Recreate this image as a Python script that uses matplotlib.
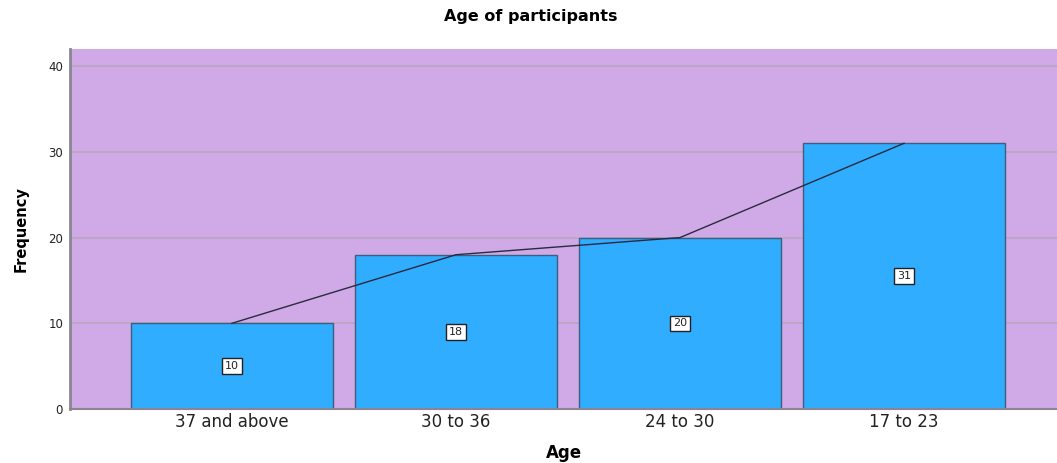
import numpy as np
import matplotlib.pyplot as plt

# --- DATA ---
age_groups = ['37 and above', '30 to 36', '24 to 30', '17 to 23']
frequency = [10, 18, 20, 31]
y_ticks = [0, 10, 20, 30, 40]

# --- STYLE ---
bg_color = '#D0AAE6'
bar_color = '#30ADFE'
grid_color = '#B7A6BE'

plt.rcParams['font.family'] = ['DejaVu Sans']

fig = plt.figure(figsize=(10.57, 4.63), dpi=100)
ax = fig.add_axes([70 / 1057, 54 / 463, 987 / 1057, 360 / 463])
ax.set_facecolor(bg_color)

x = np.arange(len(age_groups))
ax.set_axisbelow(True)
ax.yaxis.grid(True, color=grid_color, linewidth=1.2)

ax.bar(x, frequency, width=0.9, color=bar_color, edgecolor='#3A5F80', linewidth=1.0, zorder=2)
ax.plot(x, frequency, color='#2A2A40', linewidth=1.0, zorder=3)

# value labels in the middle of each bar
for xi, val in zip(x, frequency):
    ax.text(xi, val / 2, str(val), ha='center', va='center', fontsize=8, zorder=4, color='#222222',
            bbox=dict(boxstyle='square,pad=0.25', facecolor='white', edgecolor='#222222', linewidth=1.0))

ax.set_xlim(-0.723, 3.683)
ax.set_ylim(0, 42)
ax.set_xticks(x)
ax.set_xticklabels(age_groups, fontsize=12, color='#222222')
ax.set_yticks(y_ticks)
ax.tick_params(axis='y', labelsize=8.5, length=0, pad=5, colors='#222222')
ax.tick_params(axis='x', length=0, pad=3)

for side in ['top', 'right']:
    ax.spines[side].set_visible(False)
ax.spines['left'].set_color('#8A8590')
ax.spines['left'].set_linewidth(2)
ax.spines['bottom'].set_color('#8A8590')
ax.spines['bottom'].set_linewidth(1.5)

ax.set_xlabel('Age', fontsize=12, fontweight='bold', labelpad=9)
ax.set_ylabel('Frequency', fontsize=10.5, fontweight='bold', labelpad=14)
fig.text(0.502, 1 - 17 / 463, 'Age of participants', ha='center', va='center',
         fontsize=11.5, fontweight='bold')

plt.savefig('out.png', dpi=100)
